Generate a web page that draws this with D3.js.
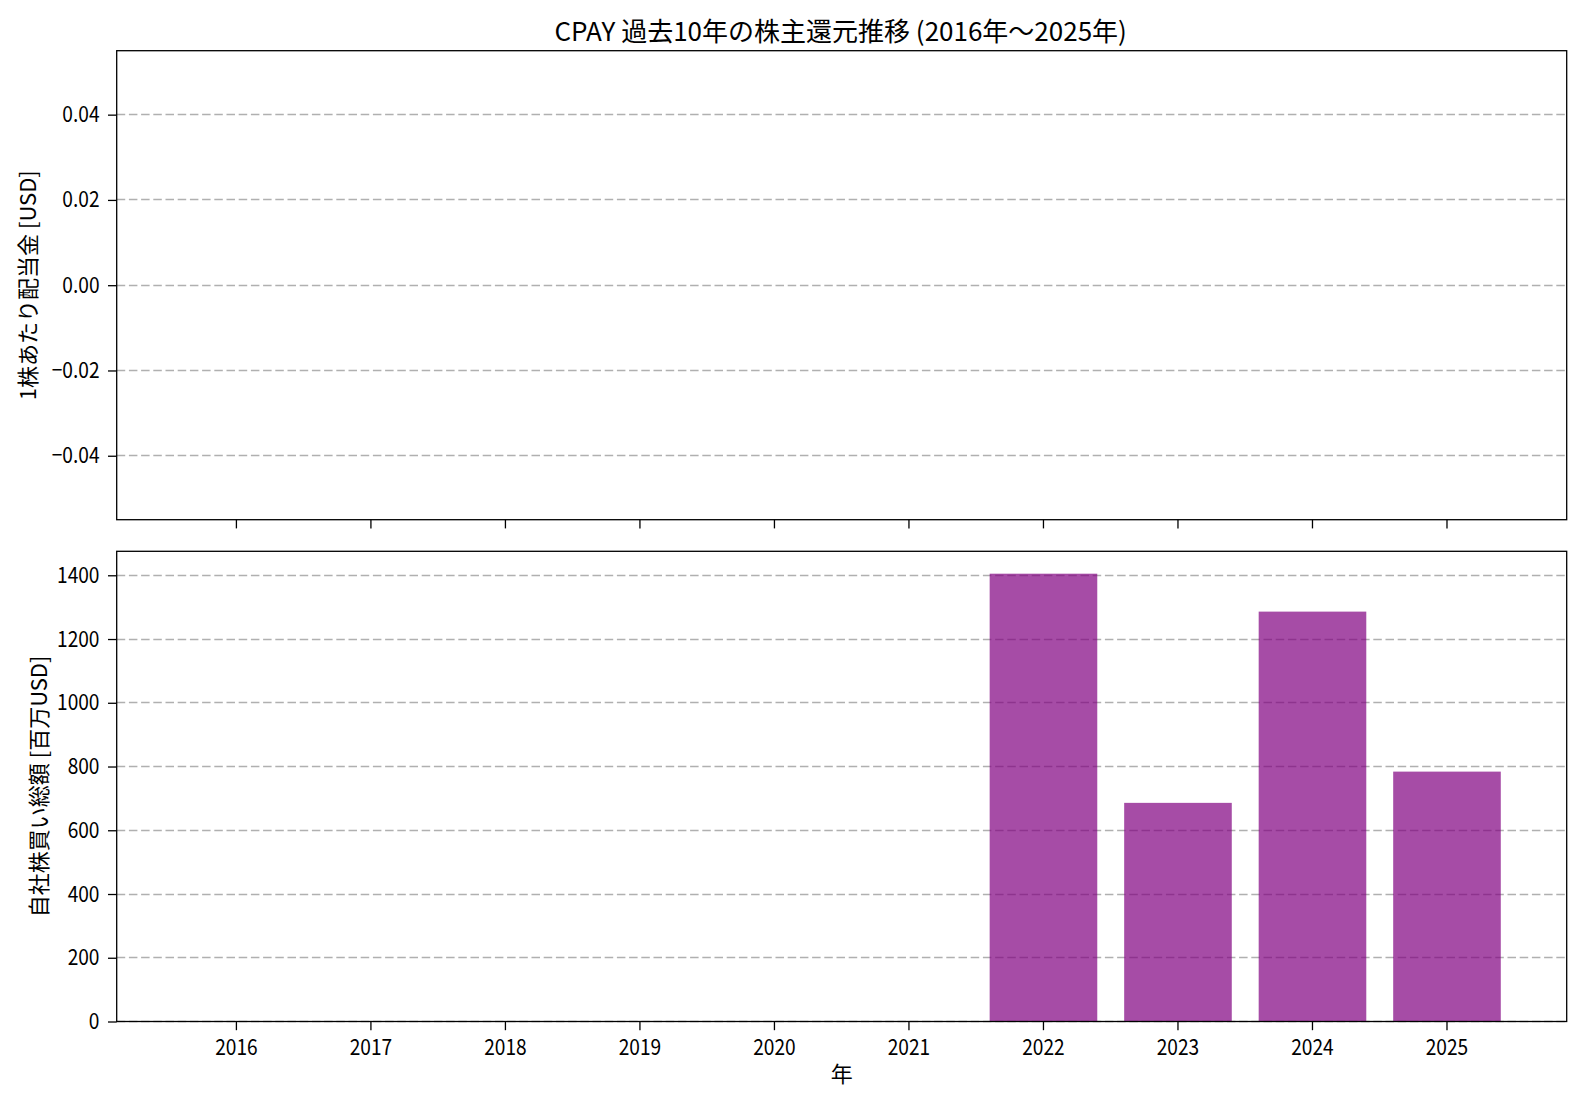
<!DOCTYPE html>
<html>
<head>
<meta charset="utf-8">
<script src="https://cdn.jsdelivr.net/npm/d3@7"></script>
<style>
  html, body { margin: 0; padding: 0; background: #fff; }
  svg text { font-family: 'Noto Sans CJK JP', sans-serif; fill: #000; }
</style>
</head>
<body>
<svg id="chart" width="1582" height="1102"></svg>
<script>
const years = ["2016","2017","2018","2019","2020","2021","2022","2023","2024","2025"];
const dividends = [null,null,null,null,null,null,null,null,null,null];
const buybacks = [0,0,0,0,0,0,1405,686,1286,784];
const divTicks = [-0.04,-0.02,0,0.02,0.04];
const buyTicks = [0,200,400,600,800,1000,1200,1400];
const titleText = "CPAY 過去10年の株主還元推移 (2016年〜2025年)";
const divLabel = "1株あたり配当金 [USD]";
const buyLabel = "自社株買い総額 [百万USD]";
const xLabel = "年";

const svg = d3.select("#chart");
const left = 116.7, right = 1566.7;
const top1 = 50.7, bot1 = 519.7;
const top2 = 551.3, bot2 = 1021.5;
const gridColor = "#b0b0b0";
const barColor = "purple";
const narrow = 0.87;

const x = d3.scaleBand().domain(years).range([left, right]).paddingInner(0.2).paddingOuter(0.49);

const y1 = d3.scaleLinear().domain([-0.055, 0.055]).range([bot1, top1]);
const maxB = d3.max(buybacks);
const y2 = d3.scaleLinear().domain([0, maxB * 1.05]).range([bot2, top2]);

function fmtMinus(s) { return s.replace("-", "\u2212"); }

function drawPanel(y, ticks, fmt, top, bot, values, label, labelX, showX) {
  const g = svg.append("g");
  // grid
  g.selectAll("line.grid").data(ticks).enter().append("line")
    .attr("x1", left).attr("x2", right)
    .attr("y1", d => Math.min(Math.floor(y(d)) + 0.5, bot)).attr("y2", d => Math.min(Math.floor(y(d)) + 0.5, bot))
    .attr("stroke", gridColor).attr("stroke-width", 1.4)
    .attr("stroke-dasharray", "8.5,3.7");
  // bars
  g.selectAll("rect.bar").data(values.map((v, i) => ({v, yr: years[i]})).filter(d => d.v !== null && d.v > 0))
    .enter().append("rect")
    .attr("x", d => x(d.yr)).attr("width", x.bandwidth())
    .attr("y", d => y(d.v)).attr("height", d => y(0) - y(d.v))
    .attr("fill", barColor).attr("fill-opacity", 0.7);
  // y axis
  const ya = d3.axisLeft(y).tickValues(ticks).tickFormat(fmt).tickSize(8.7).tickPadding(8.5);
  const yg = g.append("g").attr("transform", `translate(${left},0)`).call(ya);
  yg.select(".domain").remove();
  yg.selectAll(".tick line").attr("stroke", "#000").attr("stroke-width", 1.3);
  yg.selectAll(".tick text").attr("font-size", 22).attr("fill", "#000")
    .attr("font-family", "'Noto Sans CJK JP',sans-serif")
    .each(function() {
      const t = d3.select(this);
      const xv = +t.attr("x");
      t.attr("x", 0).attr("transform", `translate(${xv},0) scale(${narrow},1)`);
    });
  // x axis
  const xa = d3.axisBottom(x).tickSize(8.7).tickPadding(9).tickFormat(showX ? (d => d) : (() => ""));
  const xg = g.append("g").attr("transform", `translate(0,${bot})`).call(xa);
  xg.select(".domain").remove();
  xg.selectAll(".tick line").attr("stroke", "#000").attr("stroke-width", 1.3);
  xg.selectAll(".tick text").attr("font-size", 22).attr("fill", "#000")
    .attr("font-family", "'Noto Sans CJK JP',sans-serif")
    .attr("transform", `scale(${narrow},1)`);
  // frame
  g.append("rect").attr("x", left).attr("y", top).attr("width", right - left).attr("height", bot - top)
    .attr("fill", "none").attr("stroke", "#000").attr("stroke-width", 1.3);
  // y label
  const cy = (top + bot) / 2;
  g.append("text").attr("transform", `translate(${labelX},${cy}) rotate(-90)`)
    .attr("text-anchor", "middle").attr("dominant-baseline", "central")
    .attr("font-size", 22).text(label);
}

drawPanel(y1, divTicks, d => fmtMinus(d3.format(".2f")(d)), top1, bot1, dividends, divLabel, 26, false);
drawPanel(y2, buyTicks, d => d3.format("d")(d), top2, bot2, buybacks, buyLabel, 37, true);

svg.append("text").attr("x", (left + right) / 2 - 1).attr("y", 29)
  .attr("text-anchor", "middle").attr("dominant-baseline", "central")
  .attr("font-size", 26).text(titleText);

svg.append("text").attr("x", (left + right) / 2).attr("y", 1072)
  .attr("text-anchor", "middle").attr("dominant-baseline", "central")
  .attr("font-size", 22).text(xLabel);
</script>
</body>
</html>
